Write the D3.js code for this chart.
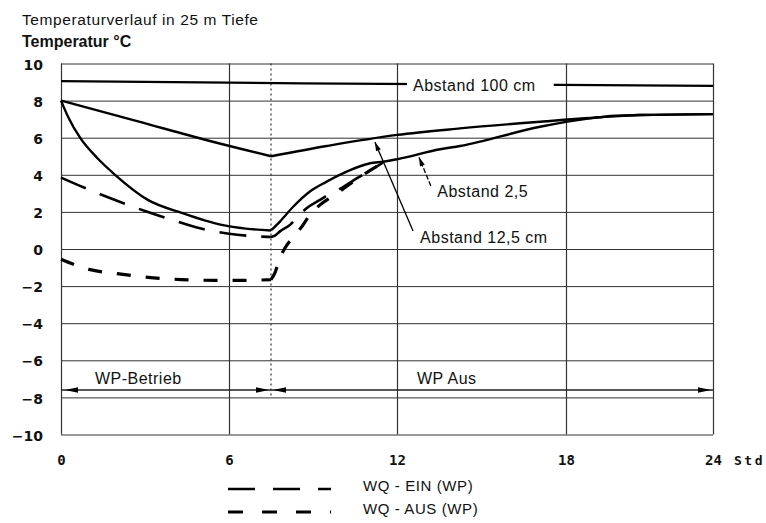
<!DOCTYPE html>
<html><head><meta charset="utf-8">
<script src="https://cdn.jsdelivr.net/npm/d3@7"></script>
<style>body{margin:0;background:#fff} svg{display:block}</style>
</head><body>
<svg id="c" width="766" height="523"></svg>
<script>
// ---------- data ----------
const titleText = "Temperaturverlauf in 25 m Tiefe";
const yAxisTitle = "Temperatur °C";
const hourTicks = [0, 6, 12, 18, 24];
const hourUnit = "Std";
const tempTicks = [-10, -8, -6, -4, -2, 0, 2, 4, 6, 8, 10];
const pumpOffHour = 7.5;

const abstand100 = [[0,9.05],[4,9.0],[8.6,8.93],[13,8.89],[17.8,8.85],[24,8.79]];
const abstand2_5 = [[0,8.0],[0.26,7.1],[0.68,6.0],[1.33,4.85],[1.93,4.0],[3.1,2.65],[4.31,1.95],[5.74,1.3],[6.6,1.1],[7.5,1.0],
  [7.82,1.48],[8.3,2.29],[8.89,3.1],[9.49,3.63],[10.2,4.17],[11.04,4.62],[11.51,4.71],[12.0,4.84],[13.53,5.38],[14.24,5.55],[17.08,6.59],[18.98,7.04],[20,7.18],[21,7.22],[24,7.27]];
const abstand12_5 = [[0,8.0],[2.75,6.88],[5.25,5.85],[7.5,5.0],[9.49,5.55],[12.0,6.15],[14.24,6.5],[17.08,6.86],[19.4,7.1],[21,7.22],[24,7.27]];
const wqEin = [[0,3.85],[1,3.2],[2,2.6],[3,2.05],[4,1.55],[5,1.1],[6,0.82],[7,0.68],[7.5,0.65],
  [7.64,0.72],[7.82,0.95],[8.18,1.3],[8.42,1.67],[8.77,2.2],[9.25,2.65],[9.61,2.98],[10.03,3.3],[10.5,3.75],[11.0,4.2],[11.5,4.65]];
const wqAus = [[0,-0.55],[1,-1.1],[2,-1.33],[3.2,-1.54],[4.3,-1.65],[5.5,-1.69],[6.55,-1.69],[7.5,-1.65],
  [7.64,-1.29],[7.82,-0.48],[8.0,0.05],[8.31,0.68],[8.6,1.2],[8.89,1.84],[9.25,2.38],[9.61,2.76],[10.03,3.19],[10.5,3.7],[11.0,4.2],[11.5,4.65]];

const legendItems = [{label:"WQ - EIN (WP)", key:"ein"}, {label:"WQ - AUS (WP)", key:"aus"}];
const phaseLabels = [{label:"WP-Betrieb", t:1.21}, {label:"WP Aus", t:12.71}];
const phaseLevel = -7.6;

// ---------- layout ----------
const svg = d3.select("#c");
const x = d3.scaleLinear().domain(hourTicks).range([61, 229, 397, 566, 713]);
const y = d3.scaleLinear().domain([-10, 10]).range([434.5, 63.5]);
const font = "'Liberation Sans', Arial, Helvetica, sans-serif";
const styles = {
  solid: {dash: null, w: 2.4},
  ein: {dash: "27,15", w: 2.6},
  aus: {dash: "14,15", w: 3.2}
};

// title
svg.append("text").attr("x", 22).attr("y", 25).text(titleText)
  .attr("font-family", font).attr("font-size", 15.5).attr("letter-spacing", 0.6).attr("fill", "#111");
svg.append("text").attr("x", 22).attr("y", 47).text(yAxisTitle)
  .attr("font-family", font).attr("font-size", 16).attr("font-weight", "bold").attr("fill", "#111");

// y axis with grid
const gy = svg.append("g").attr("transform", `translate(${x(0)},0)`)
  .call(d3.axisLeft(y).tickValues(tempTicks).tickSize(-(x(24) - x(0))).tickPadding(18));
gy.select(".domain").remove();
gy.selectAll(".tick line").attr("stroke", "#333").attr("stroke-width", 1);
gy.selectAll(".tick text").attr("font-family", "'DejaVu Sans', sans-serif").attr("font-size", 14)
  .attr("font-weight", "bold").attr("fill", "#111").attr("dy", "0.4em");

// x axis with grid
const gx = svg.append("g").attr("transform", `translate(0,${y(-10)})`)
  .call(d3.axisBottom(x).tickValues(hourTicks).tickSize(-(y(-10) - y(10))).tickPadding(21));
gx.select(".domain").remove();
gx.selectAll(".tick line").attr("stroke", "#333").attr("stroke-width", 1.2);
gx.selectAll(".tick text").attr("font-family", "'DejaVu Sans Mono', monospace").attr("font-size", 14)
  .attr("font-weight", "bold").attr("fill", "#111");
svg.append("text").attr("x", x(24) + 21).attr("y", y(-10) + 21).attr("dy", "0.71em").text(hourUnit)
  .attr("font-family", "'DejaVu Sans Mono', monospace").attr("font-size", 13).attr("font-weight", "bold")
  .attr("letter-spacing", 2.5).attr("fill", "#111");

// pump-off dotted line
svg.append("line").attr("x1", x(pumpOffHour)).attr("x2", x(pumpOffHour))
  .attr("y1", y(10)).attr("y2", y(-8)).attr("stroke", "#333").attr("stroke-width", 1.2).attr("stroke-dasharray", "2,3");

// curves
const line = d3.line().x(d => x(d[0])).y(d => y(d[1])).curve(d3.curveMonotoneX);
function drawSeries(data, st) {
  const a = data.filter(d => d[0] <= pumpOffHour), b = data.filter(d => d[0] >= pumpOffHour);
  const p = svg.append("path").attr("fill", "none").attr("stroke", "#000")
    .attr("stroke-width", st.w).attr("d", (a.length > 1 ? line(a) : "") + (b.length > 1 ? line(b) : ""));
  if (st.dash) p.attr("stroke-dasharray", st.dash);
}
svg.append("path").attr("fill", "none").attr("stroke", "#000").attr("stroke-width", 2.2)
  .attr("d", d3.line().x(d => x(d[0])).y(d => y(d[1]))(abstand100));
drawSeries(abstand12_5, styles.solid);
drawSeries(abstand2_5, styles.solid);
drawSeries(wqEin, styles.ein);
drawSeries(wqAus, styles.aus);

// labels
const annFont = {family: font, size: 16, ls: 0.5};
function label(txt, t, v) {
  return svg.append("text").attr("x", x(t)).attr("y", y(v)).attr("dy", "0.35em").text(txt)
    .attr("font-family", annFont.family).attr("font-size", annFont.size).attr("letter-spacing", annFont.ls).attr("fill", "#111");
}
const l100 = label("Abstand 100 cm", 12.57, 8.84);
const bb = l100.node().getBBox();
svg.append("rect").attr("x", bb.x - 6).attr("y", bb.y).attr("width", bb.width + 24)
  .attr("height", bb.height).attr("fill", "#fff");
l100.raise();

label("Abstand 2,5", 13.43, 3.09);
label("Abstand 12,5 cm", 12.82, 0.65);

// leader lines with arrow tips
function leader(t0, v0, t1, v1, dash) {
  const x0 = x(t0), y0 = y(v0), x1 = x(t1), y1 = y(v1);
  const l = svg.append("line").attr("x1", x0).attr("y1", y0).attr("x2", x1).attr("y2", y1)
    .attr("stroke", "#000").attr("stroke-width", 1.3);
  if (dash) l.attr("stroke-dasharray", dash);
  const ang = Math.atan2(y1 - y0, x1 - x0), L = 9, W = 2.6;
  const bx = x1 - L * Math.cos(ang), by = y1 - L * Math.sin(ang);
  svg.append("path").attr("fill", "#000").attr("d",
    `M${x1},${y1}L${bx - W * Math.sin(ang)},${by + W * Math.cos(ang)}L${bx + W * Math.sin(ang)},${by - W * Math.cos(ang)}Z`);
}
leader(13.2, 3.4, 12.78, 4.95, "5,2");
leader(12.57, 0.97, 11.21, 5.77, null);

// phase span line
const py = y(phaseLevel);
svg.append("line").attr("x1", x(0)).attr("x2", x(24)).attr("y1", py).attr("y2", py)
  .attr("stroke", "#222").attr("stroke-width", 1.3);
function head(xt, dir) {
  svg.append("path").attr("fill", "#000")
    .attr("d", `M${xt},${py}L${xt + dir * 13},${py - 2.8}L${xt + dir * 13},${py + 2.8}Z`);
}
head(x(0) + 4, 1); head(x(pumpOffHour) - 2, -1); head(x(pumpOffHour) + 2, 1); head(x(24) - 2, -1);
phaseLabels.forEach(p => label(p.label, p.t, -7.0));

// legend
legendItems.forEach((it, i) => {
  const ly = 489 + i * 23;
  svg.append("line").attr("x1", 228).attr("x2", 331).attr("y1", ly).attr("y2", ly)
    .attr("stroke", "#000").attr("stroke-width", styles[it.key].w).attr("stroke-dasharray", it.key === "ein" ? "27,18" : "15,19");
  svg.append("text").attr("x", 363).attr("y", ly - 3).attr("dy", "0.35em").text(it.label)
    .attr("font-family", font).attr("font-size", 15).attr("letter-spacing", 0.6).attr("fill", "#111");
});
</script>
</body></html>
